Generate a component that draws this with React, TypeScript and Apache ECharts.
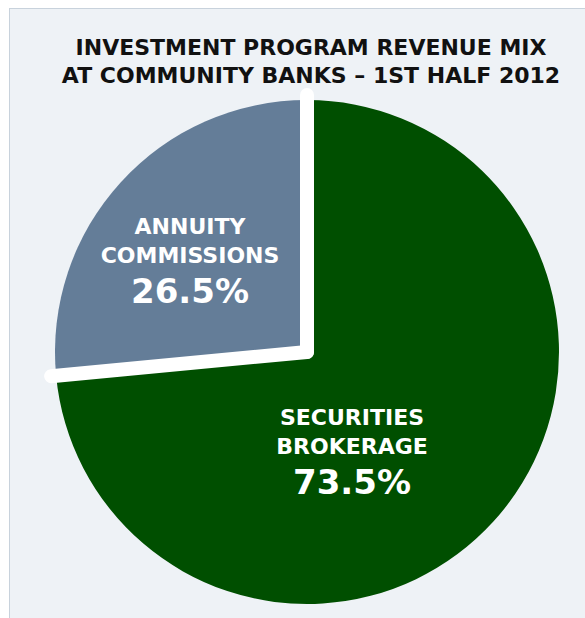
import React, { useEffect, useRef } from "react";
import * as echarts from "echarts";

const titleLines = ["INVESTMENT PROGRAM REVENUE MIX", "AT COMMUNITY BANKS – 1ST HALF 2012"];
const categories = ["SECURITIES\nBROKERAGE", "ANNUITY\nCOMMISSIONS"];
const values = [73.5, 26.5];
const colors = ["#004f00", "#647d98"];
const labelCenters = [
  [352, 453],
  [190, 262],
];

const CX = 307;
const CY = 352;
const R = 252;
const FONT = "DejaVu Sans";

export default function App() {
  const ref = useRef<HTMLDivElement>(null);
  useEffect(() => {
    if (!ref.current) return;
    const chart = echarts.init(ref.current, undefined, { renderer: "svg" });
    const total = values.reduce((a, b) => a + b, 0);
    const lines: any[] = [];
    let cum = 0;
    values.forEach((v) => {
      const ang = ((90 - (cum / total) * 360) * Math.PI) / 180;
      const len = R + 5;
      lines.push({
        type: "line",
        z: 10,
        silent: true,
        shape: { x1: CX, y1: CY, x2: CX + len * Math.cos(ang), y2: CY - len * Math.sin(ang) },
        style: { stroke: "#ffffff", lineWidth: 14, lineCap: "round" },
      });
      cum += v;
    });
    const labels = categories.map((c, i) => {
      const parts = c.split("\n");
      const text = parts.map((p) => `{a|${p}}`).join("\n") + `\n{b|${values[i].toFixed(1)}%}`;
      return {
        type: "text",
        z: 11,
        silent: true,
        x: labelCenters[i][0],
        y: labelCenters[i][1],
        style: {
          text,
          align: "center",
          verticalAlign: "middle",
          fill: "#ffffff",
          rich: {
            a: { fontFamily: FONT, fontWeight: "bold", fontSize: 22, lineHeight: 29, fill: "#ffffff", align: "center" },
            b: { fontFamily: FONT, fontWeight: "bold", fontSize: 34, lineHeight: 42, fill: "#ffffff", align: "center" },
          },
        },
      };
    });
    chart.setOption({
      animation: false,
      backgroundColor: "transparent",
      title: {
        text: titleLines.join("\n"),
        left: 306,
        top: 28,
        textAlign: "center",
        textStyle: {
          fontFamily: FONT,
          fontWeight: "bold",
          fontSize: 22,
          lineHeight: 28,
          color: "#111111",
        },
      },
      series: [
        {
          type: "pie",
          center: [CX, CY],
          radius: R,
          startAngle: 90,
          clockwise: true,
          silent: true,
          label: { show: false },
          labelLine: { show: false },
          emphasis: { disabled: true },
          data: categories.map((c, i) => ({ name: c, value: values[i], itemStyle: { color: colors[i] } })),
        },
      ],
      graphic: [...lines, ...labels],
    });
    return () => chart.dispose();
  }, []);
  return (
    <div style={{ position: "absolute", left: 0, top: 0, width: 585, height: 618, background: "#ffffff", overflow: "hidden" }}>
      <div
        style={{
          position: "absolute",
          left: 9,
          top: 8,
          right: 0,
          bottom: 0,
          background: "#eef2f6",
          borderLeft: "1px solid #c8d2dc",
          borderTop: "1px solid #c8d2dc",
        }}
      />
      <div ref={ref} style={{ position: "absolute", left: 0, top: 0, width: 585, height: 618 }} />
    </div>
  );
}
